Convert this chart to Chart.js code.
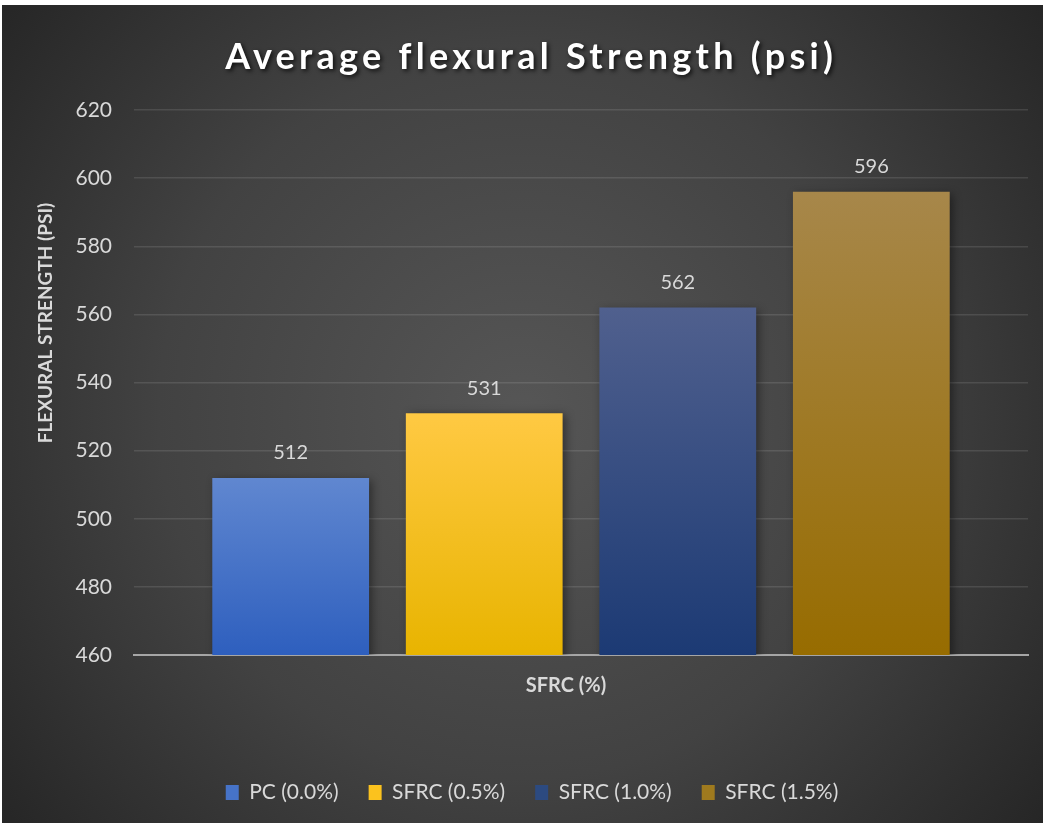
<!DOCTYPE html>
<html>
<head>
<meta charset="utf-8">
<title>Average flexural Strength (psi)</title>
<script src="https://cdn.jsdelivr.net/npm/chart.js@4.4.1/dist/chart.umd.min.js"></script>
<style>
    html, body { margin: 0; padding: 0; background: #ffffff; }
    #wrap {
        position: absolute;
        left: 2px; top: 5px;
        width: 1041px; height: 818px;
        background: radial-gradient(circle farthest-corner at 50% 50%, #565656 0%, #424242 55%, #262626 100%);
    }
</style>
</head>
<body>
<div id="wrap"><canvas id="flexural-chart"></canvas></div>
<script>
    "use strict";

    // Data
    var categories = ["SFRC (%)"];
    var seriesNames = ["PC (0.0%)", "SFRC (0.5%)", "SFRC (1.0%)", "SFRC (1.5%)"];
    var pcValues = [512];
    var sfrc05Values = [531];
    var sfrc10Values = [562];
    var sfrc15Values = [596];
    var yTicks = [460, 480, 500, 520, 540, 560, 580, 600, 620];

    var chartTitle = "Average flexural Strength (psi)";
    var yTitle = "FLEXURAL STRENGTH (PSI)";

    // top / bottom colours of each bar gradient
    var barColors = [
        ["#6087d0", "#2e5fbe"],
        ["#ffc943", "#e8b400"],
        ["#50608e", "#1c3a74"],
        ["#a7874a", "#976c00"]
    ];
    var legendColors = ["#4673c8", "#fbc21e", "#2c4a80", "#9f7a1e"];

    var FONT = "Lato, 'Open Sans', sans-serif";
    var TEXT = "#d9d9d9";

    function barGradient(i) {
        return function (context) {
            var chart = context.chart;
            var area = chart.chartArea;
            if (!area || context.raw === undefined) return barColors[i][1];
            var yScale = chart.scales.y;
            var top = yScale.getPixelForValue(context.raw);
            var g = chart.ctx.createLinearGradient(0, top, 0, area.bottom);
            g.addColorStop(0, barColors[i][0]);
            g.addColorStop(1, barColors[i][1]);
            return g;
        };
    }

    // Bar shadows
    var barShadow = {
        id: "barShadow",
        beforeDatasetsDraw: function (chart) {
            var ctx = chart.ctx;
            ctx.save();
            ctx.shadowColor = "rgba(0, 0, 0, 0.45)";
            ctx.shadowBlur = 9;
            ctx.shadowOffsetX = 3;
            ctx.shadowOffsetY = 2;
        },
        afterDatasetsDraw: function (chart) {
            chart.ctx.restore();
        }
    };

    // Value labels above the bars
    var valueLabels = {
        id: "valueLabels",
        afterDatasetsDraw: function (chart) {
            var ctx = chart.ctx;
            ctx.save();
            ctx.font = "20px " + FONT;
            ctx.fillStyle = TEXT;
            ctx.textAlign = "center";
            ctx.textBaseline = "middle";
            chart.data.datasets.forEach(function (ds, i) {
                var meta = chart.getDatasetMeta(i);
                meta.data.forEach(function (bar, j) {
                    ctx.fillText(String(ds.data[j]), bar.x, bar.y - 25);
                });
            });
            ctx.restore();
        }
    };

    // nudge the legend row a little to the right
    var legendShift = {
        id: "legendShift",
        afterLayout: function (chart) {
            if (chart.legend) {
                chart.legend.left += 17;
                chart.legend.right += 17;
            }
        }
    };

    // Chart title and y axis title
    var titles = {
        id: "titles",
        afterDraw: function (chart) {
            var ctx = chart.ctx;
            ctx.save();
            ctx.font = "bold 36px " + FONT;
            var w = ctx.measureText(chartTitle).width;
            var spacing = Math.max(0, (608 - w) / (chartTitle.length - 1));
            ctx.letterSpacing = spacing.toFixed(2) + "px";
            ctx.fillStyle = "#ffffff";
            ctx.textAlign = "center";
            ctx.textBaseline = "alphabetic";
            ctx.shadowColor = "rgba(0, 0, 0, 0.75)";
            ctx.shadowBlur = 4;
            ctx.shadowOffsetX = 2;
            ctx.shadowOffsetY = 2;
            ctx.fillText(chartTitle, 527 + spacing / 2, 64);
            ctx.restore();

            ctx.save();
            ctx.translate(44, 318);
            ctx.rotate(-Math.PI / 2);
            ctx.font = "bold 19px " + FONT;
            ctx.fillStyle = TEXT;
            ctx.textAlign = "center";
            ctx.textBaseline = "middle";
            ctx.fillText(yTitle, 0, 0);
            ctx.restore();
        }
    };

    var ctx = document.getElementById("flexural-chart").getContext("2d");
    var myChart = new Chart(ctx, {
        type: "bar",
        data: {
            labels: categories,
            datasets: [
                { label: seriesNames[0], data: pcValues, backgroundColor: barGradient(0) },
                { label: seriesNames[1], data: sfrc05Values, backgroundColor: barGradient(1) },
                { label: seriesNames[2], data: sfrc10Values, backgroundColor: barGradient(2) },
                { label: seriesNames[3], data: sfrc15Values, backgroundColor: barGradient(3) }
            ]
        },
        options: {
            responsive: true,
            maintainAspectRatio: false,
            animation: false,
            categoryPercentage: 0.866,
            barPercentage: 0.81,
            layout: {
                padding: { top: 105, right: 15, bottom: 10, left: 0 }
            },
            scales: {
                x: {
                    z: 1,
                    grid: { display: false },
                    border: { display: true, color: "#a6a6a6", width: 2 },
                    ticks: {
                        color: TEXT,
                        font: { family: FONT, size: 20, weight: "bold" },
                        padding: 11,
                        labelOffset: -15
                    },
                    afterFit: function (scale) { scale.height = 97; }
                },
                y: {
                    min: 460,
                    max: 620,
                    afterBuildTicks: function (scale) {
                        scale.ticks = yTicks.map(function (v) { return { value: v }; });
                    },
                    grid: {
                        color: "rgba(255, 255, 255, 0.11)",
                        lineWidth: 1.5,
                        drawTicks: false
                    },
                    border: { display: false },
                    ticks: {
                        color: TEXT,
                        font: { family: FONT, size: 21 },
                        padding: 22
                    },
                    afterFit: function (scale) { scale.width = 132; }
                }
            },
            plugins: {
                title: { display: false },
                tooltip: { enabled: false },
                legend: {
                    display: true,
                    position: "bottom",
                    labels: {
                        color: TEXT,
                        font: { family: FONT, size: 21 },
                        boxWidth: 13,
                        boxHeight: 15,
                        padding: 30,
                        generateLabels: function (chart) {
                            return chart.data.datasets.map(function (ds, i) {
                                return {
                                    text: ds.label,
                                    fillStyle: legendColors[i],
                                    strokeStyle: legendColors[i],
                                    lineWidth: 0,
                                    fontColor: TEXT,
                                    datasetIndex: i
                                };
                            });
                        }
                    }
                }
            }
        },
        plugins: [barShadow, valueLabels, legendShift, titles]
    });
</script>
</body>
</html>
